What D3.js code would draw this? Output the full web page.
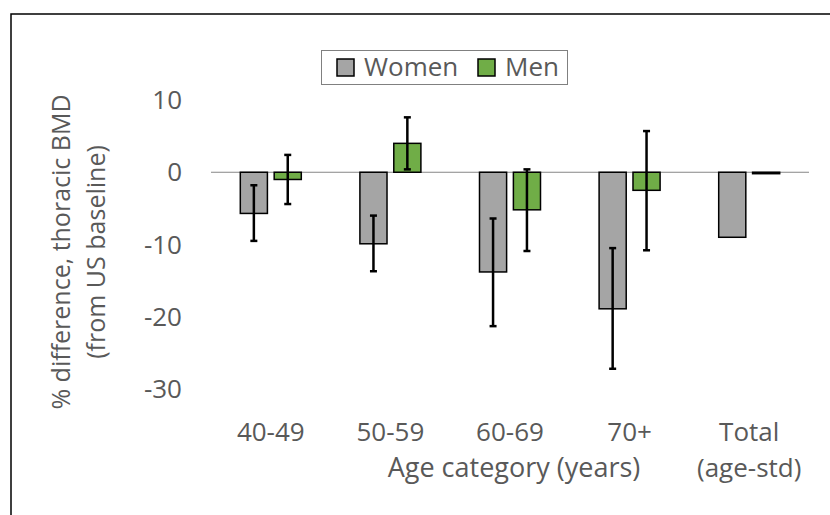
<!DOCTYPE html>
<html>
<head>
<meta charset="utf-8">
<script src="https://cdn.jsdelivr.net/npm/d3@7"></script>
<style>
  html, body { margin: 0; padding: 0; background: #fff; }
  text { font-family: "Open Sans", sans-serif; fill: #595959; }
</style>
</head>
<body>
<script>
// data
const categories = ['40-49', '50-59', '60-69', '70+', 'Total (age-std)'];
const tickLines  = [['40-49'], ['50-59'], ['60-69'], ['70+'], ['Total', '(age-std)']];
const series     = ['Women', 'Men'];
const women      = [-5.7, -9.9, -13.8, -18.9, -9.0];
const womenLow   = [-9.5, -13.7, -21.3, -27.2, null];
const womenHigh  = [-1.8, -6.0, -6.4, -10.5, null];
const men        = [-1.0, 4.0, -5.2, -2.5, -0.2];
const menLow     = [-4.4, 0.4, -10.9, -10.8, null];
const menHigh    = [2.4, 7.6, 0.4, 5.7, null];
const yTicks     = [10, 0, -10, -20, -30];

const W = 830, H = 515;
const colors = {Women: '#a5a5a5', Men: '#70ad47'};

const svg = d3.select('body').append('svg')
  .attr('width', W)
  .attr('height', H);

// frame (only top and left edges show)
svg.append('path')
  .attr('d', `M11,${H} L11,14 L${W},14`)
  .attr('fill', 'none')
  .attr('stroke', '#000')
  .attr('stroke-width', 1.5);

const x0 = d3.scaleBand().domain(categories).range([211, 809]).paddingInner(0.49).paddingOuter(0.245);
const x1 = d3.scaleBand().domain(series).range([0, x0.bandwidth()]).paddingInner(0.2);
const y  = d3.scaleLinear().domain([-30, 10]).range([389, 100]);

// build rows for drawing
const rows = [];
categories.forEach((c, i) => {
  rows.push({cat: c, s: 'Women', v: women[i], lo: womenLow[i], hi: womenHigh[i]});
  rows.push({cat: c, s: 'Men', v: men[i], lo: menLow[i], hi: menHigh[i]});
});

// y tick labels
svg.append('g').selectAll('text')
  .data(yTicks)
  .enter().append('text')
    .attr('x', 182)
    .attr('y', d => y(d))
    .attr('dy', '0.35em')
    .attr('text-anchor', 'end')
    .style('font-size', '26px')
    .text(d => d);

// zero line
svg.append('line')
  .attr('x1', 211).attr('x2', 809)
  .attr('y1', y(0)).attr('y2', y(0))
  .attr('stroke', '#868686')
  .attr('stroke-width', 1);

// bars
svg.append('g').selectAll('rect')
  .data(rows)
  .enter().append('rect')
    .attr('x', d => x0(d.cat) + x1(d.s))
    .attr('y', d => y(Math.max(0, d.v)))
    .attr('width', x1.bandwidth())
    .attr('height', d => Math.abs(y(d.v) - y(0)))
    .attr('fill', d => colors[d.s])
    .attr('stroke', '#000')
    .attr('stroke-width', 1.5);

// error bars
const eb = svg.append('g').selectAll('g')
  .data(rows.filter(d => d.lo != null))
  .enter().append('g')
    .attr('stroke', '#000')
    .attr('stroke-width', 2.5);
const cx = d => x0(d.cat) + x1(d.s) + x1.bandwidth() / 2;
eb.append('line')
  .attr('x1', cx).attr('x2', cx)
  .attr('y1', d => y(d.hi)).attr('y2', d => y(d.lo));
eb.append('line')
  .attr('x1', d => cx(d) - 3.5).attr('x2', d => cx(d) + 3.5)
  .attr('y1', d => y(d.hi)).attr('y2', d => y(d.hi));
eb.append('line')
  .attr('x1', d => cx(d) - 3.5).attr('x2', d => cx(d) + 3.5)
  .attr('y1', d => y(d.lo)).attr('y2', d => y(d.lo));

// x tick labels
const xt = svg.append('g').selectAll('text')
  .data(categories)
  .enter().append('text')
    .attr('x', d => x0(d) + x0.bandwidth() / 2)
    .attr('y', 441)
    .attr('text-anchor', 'middle')
    .style('font-size', '26px');
xt.selectAll('tspan')
  .data((d, i) => tickLines[i])
  .enter().append('tspan')
    .attr('x', function () { return d3.select(this.parentNode).attr('x'); })
    .attr('dy', (d, i) => i ? 36 : 0)
    .text(d => d);

// axis titles
svg.append('text')
  .attr('x', 514)
  .attr('y', 477)
  .attr('text-anchor', 'middle')
  .style('font-size', '27px')
  .text('Age category (years)');

const yt = svg.append('text')
  .attr('transform', 'translate(0,252) rotate(-90)')
  .attr('text-anchor', 'middle')
  .style('font-size', '25px');
yt.append('tspan').attr('x', 0).attr('y', 70).text('% difference, thoracic BMD');
yt.append('tspan').attr('x', 0).attr('y', 105).text('(from US baseline)');

// legend
const lg = svg.append('g');
lg.append('rect')
  .attr('x', 321.5).attr('y', 50.5)
  .attr('width', 246).attr('height', 34)
  .attr('fill', '#fff')
  .attr('stroke', '#808080')
  .attr('stroke-width', 1);
const legX = [337, 478];
const li = lg.selectAll('g.item')
  .data(series)
  .enter().append('g')
    .attr('class', 'item')
    .attr('transform', (d, i) => `translate(${legX[i]},59)`);
li.append('rect')
  .attr('width', 17).attr('height', 17)
  .attr('fill', d => colors[d])
  .attr('stroke', '#000')
  .attr('stroke-width', 1.5);
li.append('text')
  .attr('x', 27)
  .attr('y', 17)
  .style('font-size', '26px')
  .text(d => d);
</script>
</body>
</html>
